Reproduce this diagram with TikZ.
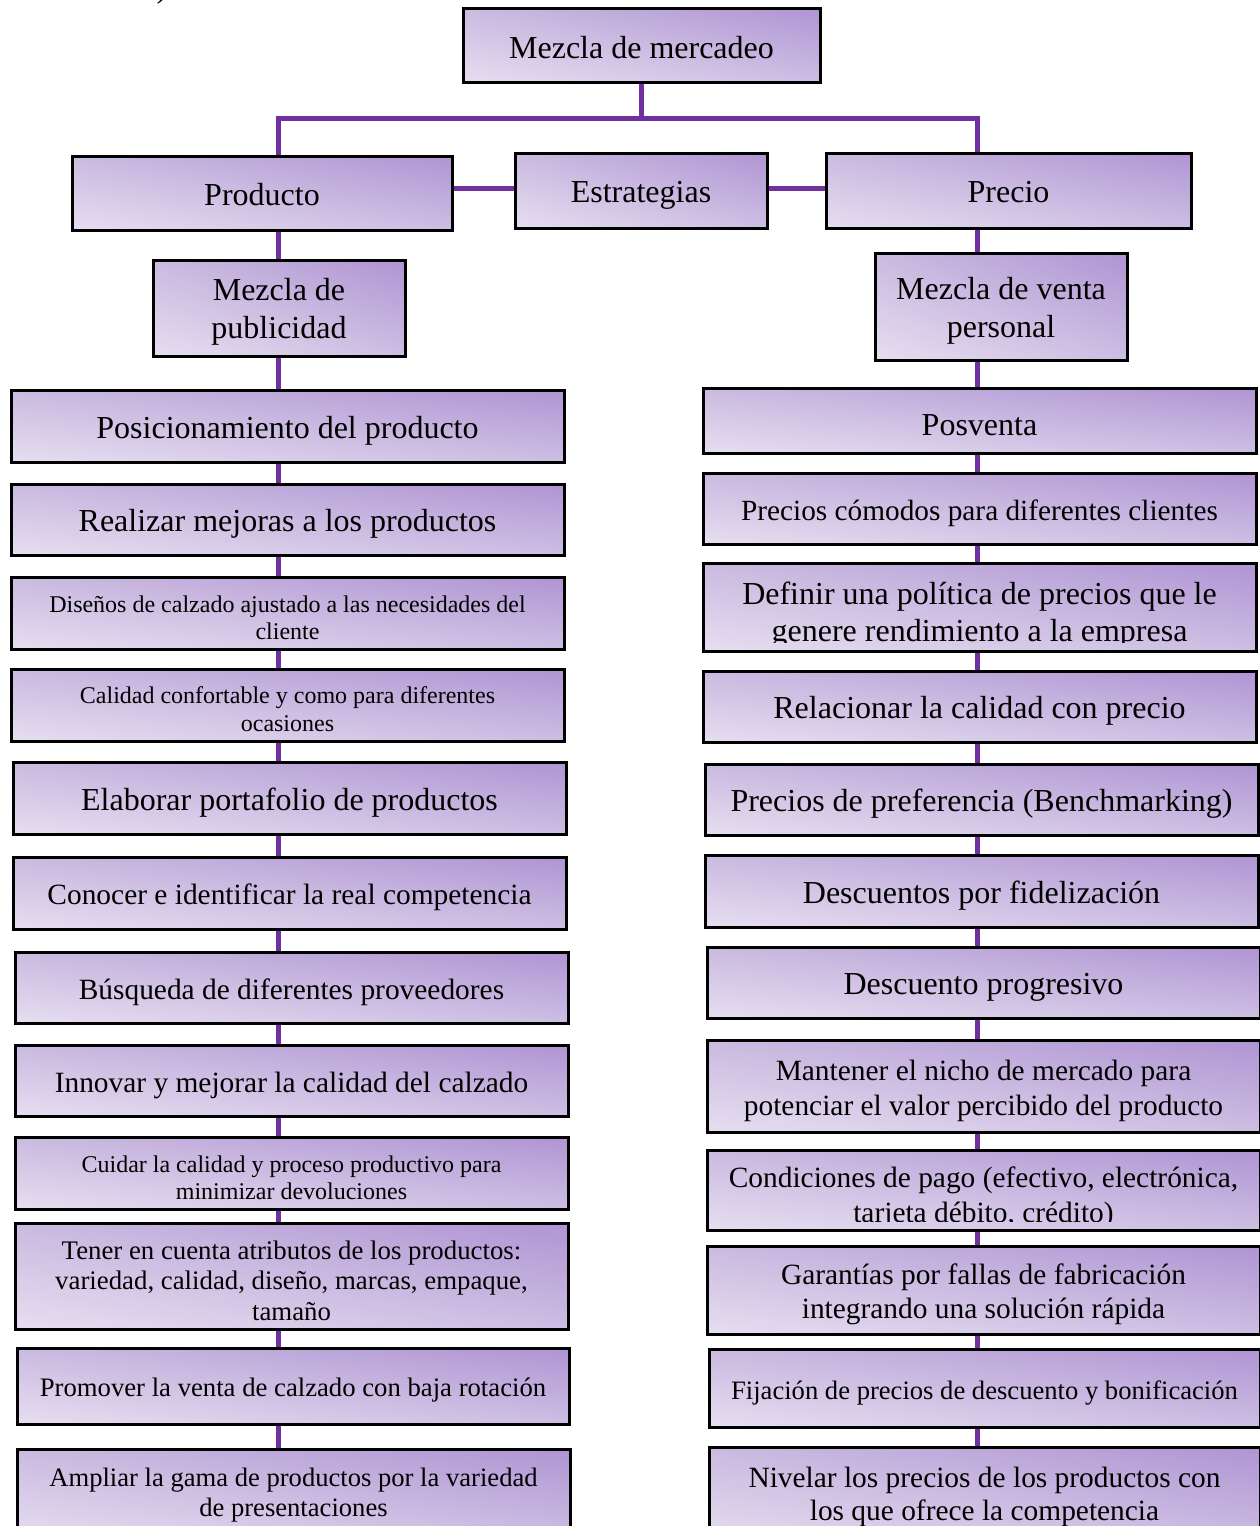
\documentclass[tikz,border=0pt]{standalone}
\usepackage{fontspec}
\setmainfont{Liberation Serif}
\usetikzlibrary{backgrounds,shadings}

\definecolor{linkpurple}{HTML}{7030A0}
\definecolor{boxUL}{HTML}{CABAE0}
\definecolor{boxUR}{HTML}{AF94D3}
\definecolor{boxLL}{HTML}{E6DEF0}
\definecolor{boxLR}{HTML}{CDBEE3}

\tikzset{
  box/.style={draw=black, line width=3pt, upper left=boxUL, upper right=boxUR,
    lower left=boxLL, lower right=boxLR, inner sep=0pt, outer sep=0pt, anchor=north west},
  txt/.style={align=center, inner sep=0pt, text=black, yshift=-4.5pt},
  link/.style={draw=linkpurple, line width=5pt},
}

% name, x1, y1, x2, y2, font size, baselineskip, extra text options, text
\newcommand\stratbox[9]{%
  \node[box, minimum width={(#4-#2)*1pt}, minimum height={(#5-#3)*1pt}] (#1) at (#2,#3) {};
  \begin{scope}
    \clip ([shift={(3pt,-9pt)}]#1.north west) rectangle ([shift={(-3pt,9pt)}]#1.south east);
    \node[txt, font=\fontsize{#6}{#7}\selectfont, #8] (#1-t) at (#1.center) {#9};
  \end{scope}}

\begin{document}
\begin{tikzpicture}[x=1pt, y=-1pt]
\useasboundingbox (0,0) rectangle (1259,1526);

\node[font=\fontsize{32}{36}\selectfont, anchor=base, inner sep=0pt] (paren) at (162,-3) {)};

% top level
\stratbox{m}{463}{8}{820}{82}{32}{36}{yshift=1.5pt}{Mezcla de mercadeo}
\stratbox{prod}{72}{156}{452}{230}{32}{36}{yshift=3pt}{Producto}
\stratbox{estr}{515}{153}{767}{228}{32}{36}{}{Estrategias}
\stratbox{prec}{826}{153}{1191}{228}{32}{36}{yshift=3pt}{Precio}
\stratbox{pub}{153}{260}{405}{356}{32}{38}{yshift=1pt}{Mezcla de\\publicidad}
\stratbox{vper}{875}{253}{1127}{360}{32}{38}{}{Mezcla de venta\\personal}

% product column
\stratbox{L1}{11}{390}{564}{462}{32}{36}{}{Posicionamiento del producto}
\stratbox{L2}{11}{484}{564}{555}{32}{36}{}{Realizar mejoras a los productos}
\stratbox{L3}{11}{577}{564}{649}{24}{27}{}{Diseños de calzado ajustado a las necesidades del\\cliente}
\stratbox{L4}{11}{669}{564}{741}{24}{28}{}{Calidad confortable y como para diferentes\\ocasiones}
\stratbox{L5}{13}{762}{566}{834}{32}{36}{}{Elaborar portafolio de productos}
\stratbox{L6}{13}{857}{566}{929}{29.4}{34}{}{Conocer e identificar la real competencia}
\stratbox{L7}{15}{952}{568}{1023}{29.4}{34}{}{Búsqueda de diferentes proveedores}
\stratbox{L8}{15}{1045}{568}{1116}{29.4}{34}{}{Innovar y mejorar la calidad del calzado}
\stratbox{L9}{15}{1137}{568}{1209}{24}{27}{}{Cuidar la calidad y proceso productivo para\\minimizar devoluciones}
\stratbox{L10}{15}{1223}{568}{1329}{26.8}{30.5}{}{Tener en cuenta atributos de los productos:\\variedad, calidad, diseño, marcas, empaque,\\tamaño}
\stratbox{L11}{17}{1348}{569}{1424}{26.7}{31}{}{Promover la venta de calzado con baja rotación}
\stratbox{L12}{17}{1449}{570}{1540}{26.6}{30}{yshift=4pt}{Ampliar la gama de productos por la variedad\\de presentaciones}

% price column
\stratbox{R1}{703}{388}{1256}{453}{32}{36}{}{Posventa}
\stratbox{R2}{703}{473}{1256}{544}{29.3}{32}{}{Precios cómodos para diferentes clientes}
\stratbox{R3}{703}{563}{1256}{651}{32}{37}{yshift=-4pt}{Definir una política de precios que le\\genere rendimiento a la empresa}
\stratbox{R4}{703}{671}{1256}{742}{32}{36}{}{Relacionar la calidad con precio}
\stratbox{R5}{705}{764}{1258}{835}{32}{36}{}{Precios de preferencia (Benchmarking)}
\stratbox{R6}{705}{855}{1258}{927}{32}{36}{}{Descuentos por fidelización}
\stratbox{R7}{707}{947}{1260}{1018}{32}{36}{}{Descuento progresivo}
\stratbox{R8}{707}{1040}{1260}{1132}{29.4}{35}{}{Mantener el nicho de mercado para\\potenciar el valor percibido del producto}
\stratbox{R9}{707}{1150}{1260}{1230}{29.4}{35}{yshift=-3pt}{Condiciones de pago (efectivo, electrónica,\\tarjeta débito, crédito)}
\stratbox{R10}{707}{1246}{1260}{1334}{29.4}{34}{}{Garantías por fallas de fabricación\\integrando una solución rápida}
\stratbox{R11}{709}{1349}{1260}{1427}{26.6}{30}{}{Fijación de precios de descuento y bonificación}
\stratbox{R12}{709}{1447}{1260}{1545}{29.4}{33}{yshift=4pt}{Nivelar los precios de los productos con\\los que ofrece la competencia}

% connectors
\coordinate (spineL) at (278,0);
\coordinate (spineR) at (977,0);
\coordinate (bar) at (641,118);
\coordinate (midrow) at (0,188);

\begin{pgfonlayer}{background}
  \draw[link] (m.south) -- (m.south |- bar);
  \draw[link] (spineL |- prod.north) |- (bar) -| (spineR |- prec.north);
  \draw[link] (prod.east |- midrow) -- (estr.west |- midrow);
  \draw[link] (estr.east |- midrow) -- (prec.west |- midrow);
  \foreach \a/\b in {prod/pub, pub/L1, L1/L2, L2/L3, L3/L4, L4/L5, L5/L6, L6/L7,
                     L7/L8, L8/L9, L9/L10, L10/L11, L11/L12}
    \draw[link] (spineL |- \a.south) -- (spineL |- \b.north);
  \foreach \a/\b in {prec/vper, vper/R1, R1/R2, R2/R3, R3/R4, R4/R5, R5/R6, R6/R7,
                     R7/R8, R8/R9, R9/R10, R10/R11, R11/R12}
    \draw[link] (spineR |- \a.south) -- (spineR |- \b.north);
\end{pgfonlayer}
\end{tikzpicture}
\end{document}
